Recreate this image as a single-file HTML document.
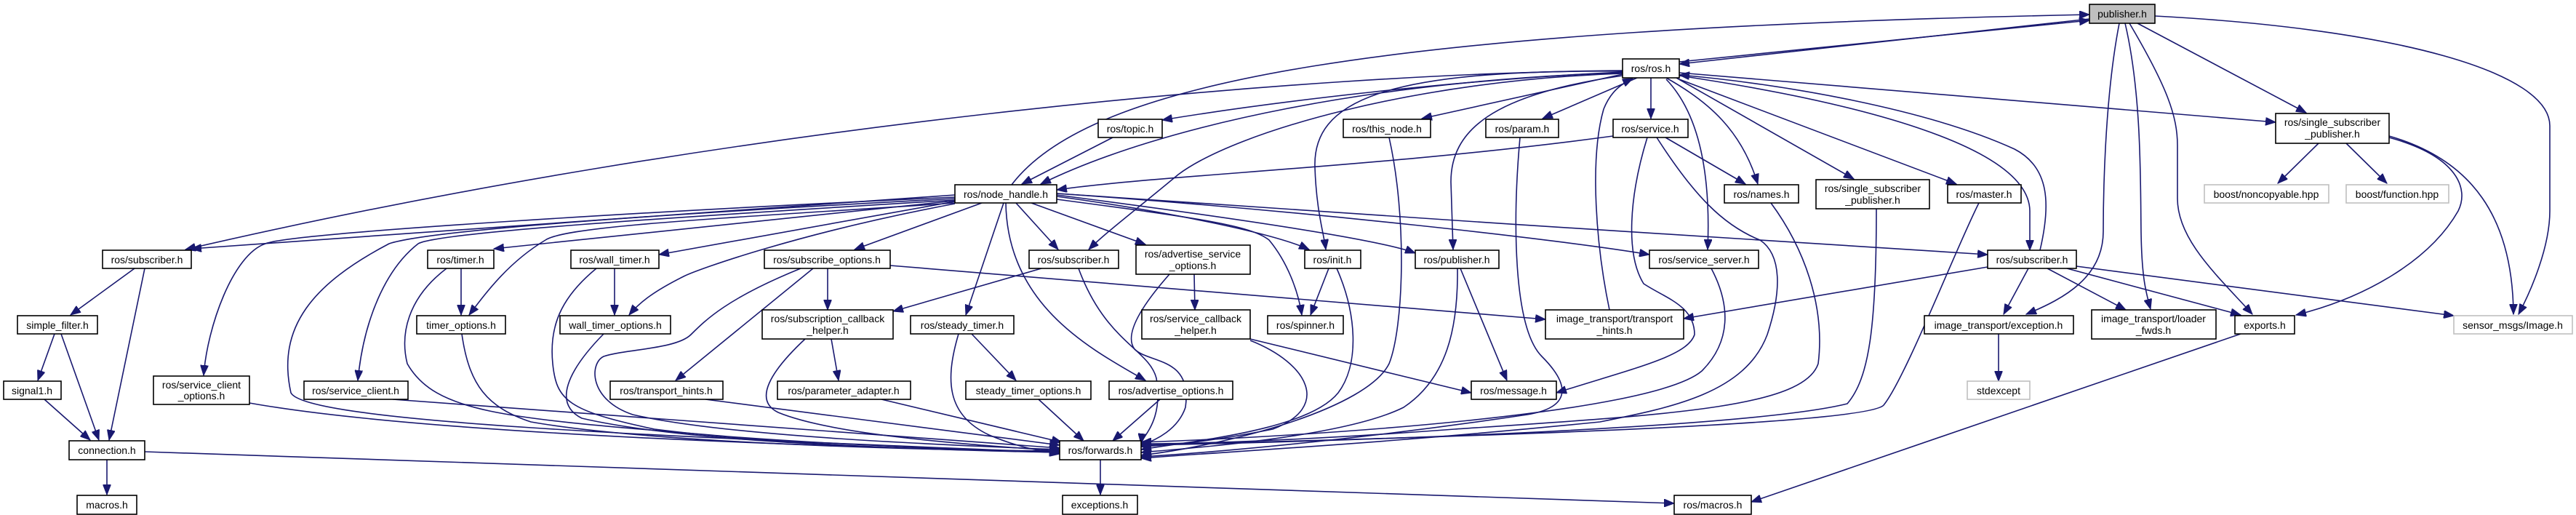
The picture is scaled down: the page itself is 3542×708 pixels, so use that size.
<!DOCTYPE html>
<html><head><meta charset="utf-8">
<style>
html,body{margin:0;padding:0;background:#fff;}
svg{display:block;}
text{font-family:"Liberation Sans",sans-serif;font-size:14px;fill:#000;}
.e{fill:none;stroke:#191970;stroke-width:1.6;marker-end:url(#a);}
.n{fill:#fff;stroke:#000;stroke-width:1.6;}
.g{fill:#fff;stroke:#bfbfbf;stroke-width:1.6;}
</style></head><body>
<svg width="3542" height="708" viewBox="0 0 3542 708" xmlns="http://www.w3.org/2000/svg">
<defs><marker id="a" markerUnits="userSpaceOnUse" markerWidth="15" markerHeight="11" refX="14" refY="5.5" orient="auto"><path d="M0,0 L14,5.5 L0,11 z" fill="#191970" stroke="#191970"/></marker></defs>
<g>
<path class="e" d="M1391,254 C1500,110 1900,40 2873,20"/>
<path class="e" d="M2873,26 L2309,88"/>
<path class="e" d="M2309,85 L2873,28"/>
<path class="e" d="M2914,32 C2893,140 2892,280 2892,318 C2892,380 2840,410 2786,432"/>
<path class="e" d="M2922,32 C2945,130 2943,250 2944,320 C2945,380 2950,400 2957,425"/>
<path class="e" d="M2928,32 C2980,120 2994,160 2994,200 L2994,273 C2994,330 3050,380 3097,432"/>
<path class="e" d="M2939,32 L3171,155"/>
<path class="e" d="M2963,22 C3300,40 3506,100 3506,173 L3506,290 C3506,340 3480,400 3463,432"/>
<path class="e" d="M3188,197 L3132,252"/>
<path class="e" d="M3226,197 L3282,252"/>
<path class="e" d="M3285,189 C3380,215 3395,260 3380,290 C3340,360 3250,410 3157,433"/>
<path class="e" d="M3285,187 C3400,220 3455,300 3456,432"/>
<path class="e" d="M2309,100 L3129,168"/>
<path class="e" d="M2789,369 L2755,432"/>
<path class="e" d="M2815,369 L2923,426"/>
<path class="e" d="M2842,369 L3081,433"/>
<path class="e" d="M2855,366 L3374,434"/>
<path class="e" d="M2309,104 C2550,140 2790,200 2791,290 L2791,344"/>
<path class="e" d="M2805,344 C2820,280 2818,230 2770,205 C2650,150 2450,115 2309,103"/>
<path class="e" d="M2733,367 L2315,438"/>
<path class="e" d="M1453,266 C1800,290 2400,330 2733,350"/>
<path class="e" d="M2721,279 C2690,340 2620,520 2590,557 C2560,590 1700,608 1569,612"/>
<path class="e" d="M3081,459 L2408,690"/>
<path class="e" d="M2748,459 L2748,524"/>
<path class="e" d="M2231,102 L1955,163"/>
<path class="e" d="M2251,107 L2121,163"/>
<path class="e" d="M2270,107 L2270,163"/>
<path class="e" d="M2291,107 C2350,140 2395,180 2417,253"/>
<path class="e" d="M2305,107 L2549,246"/>
<path class="e" d="M2309,109 L2690,253"/>
<path class="e" d="M2291,109 C2340,160 2352,250 2348,343"/>
<path class="e" d="M2231,104 C2050,130 1995,180 1995,250 L1998,343"/>
<path class="e" d="M2231,98 C1900,95 1805,140 1808,230 C1810,290 1820,320 1823,343"/>
<path class="e" d="M2231,99 C2000,110 1750,140 1598,165"/>
<path class="e" d="M2231,100 C1900,110 1600,170 1431,253"/>
<path class="e" d="M2231,101 C1950,110 1700,180 1620,240 C1560,290 1520,320 1497,343"/>
<path class="e" d="M2231,97 C1800,100 1000,170 255,343"/>
<path class="e" d="M1313,268 L263,342"/>
<path class="e" d="M2213,426 C2195,340 2185,220 2205,150 C2215,125 2230,115 2245,108"/>
<path class="e" d="M1530,189 L1405,253"/>
<path class="e" d="M2218,187 C1900,230 1600,240 1453,261"/>
<path class="e" d="M1313,271 C900,290 400,320 365,335 C320,350 285,450 280,516"/>
<path class="e" d="M1313,273 C800,300 580,320 535,335 C430,390 380,450 400,540 C420,580 900,600 1457,622"/>
<path class="e" d="M1313,275 C900,300 600,320 575,335 C530,370 500,440 492,523"/>
<path class="e" d="M1313,276 L679,342"/>
<path class="e" d="M1313,279 C1000,300 780,310 750,330 C700,360 670,400 645,433"/>
<path class="e" d="M1313,277 L906,350"/>
<path class="e" d="M1313,280 C1100,320 960,370 940,380 C900,400 880,415 865,433"/>
<path class="e" d="M1350,279 L1175,343"/>
<path class="e" d="M1380,279 L1328,433"/>
<path class="e" d="M1397,279 L1455,343"/>
<path class="e" d="M1418,279 L1575,336"/>
<path class="e" d="M1383,279 C1385,420 1500,480 1575,523"/>
<path class="e" d="M1453,274 C1650,300 1720,310 1745,330 C1770,360 1785,400 1790,433"/>
<path class="e" d="M1453,270 C1600,290 1750,320 1800,343"/>
<path class="e" d="M1453,268 C1700,300 1900,330 1946,348"/>
<path class="e" d="M1453,266 C1800,290 2150,330 2268,350"/>
<path class="e" d="M1138,369 L1138,426"/>
<path class="e" d="M1118,369 L929,523"/>
<path class="e" d="M1101,369 C1000,410 970,440 950,460 C930,480 860,480 830,490 C810,500 810,550 870,570 C1000,600 1300,612 1457,618"/>
<path class="e" d="M1224,365 L2125,439"/>
<path class="e" d="M1432,369 L1228,428"/>
<path class="e" d="M1483,369 C1520,470 1580,480 1590,520 C1600,580 1570,600 1569,610"/>
<path class="e" d="M1642,377 L1643,426"/>
<path class="e" d="M1608,377 C1570,420 1545,460 1560,480 C1580,500 1640,490 1630,560 C1620,590 1590,605 1569,612"/>
<path class="e" d="M1143,466 L1153,523"/>
<path class="e" d="M1107,466 C1060,510 1035,550 1070,567 C1150,600 1350,612 1457,620"/>
<path class="e" d="M1336,459 L1397,523"/>
<path class="e" d="M1318,459 C1300,520 1300,570 1360,598 C1400,615 1430,620 1457,624"/>
<path class="e" d="M1719,466 L2023,540"/>
<path class="e" d="M1719,468 C1800,500 1830,560 1750,590 C1650,610 1600,612 1569,614"/>
<path class="e" d="M1595,549 L1530,606"/>
<path class="e" d="M1428,549 L1490,606"/>
<path class="e" d="M1212,549 L1460,608"/>
<path class="e" d="M970,549 L1457,612"/>
<path class="e" d="M540,549 L1457,616"/>
<path class="e" d="M343,554 C600,600 1200,615 1457,622"/>
<path class="e" d="M635,459 C645,530 670,560 730,580 C900,610 1300,620 1457,620"/>
<path class="e" d="M830,459 C780,510 760,555 800,575 C950,610 1300,620 1457,620"/>
<path class="e" d="M634,369 L634,433"/>
<path class="e" d="M614,369 C560,410 550,460 560,500 C600,570 700,575 1000,600 C1200,615 1400,620 1457,622"/>
<path class="e" d="M845,369 L845,433"/>
<path class="e" d="M820,369 C770,410 755,450 760,500 C765,550 780,565 900,590 C1100,615 1350,620 1457,622"/>
<path class="e" d="M1513,632 L1513,680"/>
<path class="e" d="M199,621 L2302,692"/>
<path class="e" d="M147,632 L147,680"/>
<path class="e" d="M185,369 L97,433"/>
<path class="e" d="M199,369 L150,605"/>
<path class="e" d="M75,459 L52,523"/>
<path class="e" d="M84,459 L136,605"/>
<path class="e" d="M61,549 L124,605"/>
<path class="e" d="M1827,369 L1802,433"/>
<path class="e" d="M1838,369 C1865,430 1870,500 1840,540 C1800,590 1650,605 1569,618"/>
<path class="e" d="M2008,369 L2072,523"/>
<path class="e" d="M2004,369 C2005,450 1990,520 1930,560 C1850,600 1650,615 1569,622"/>
<path class="e" d="M1910,189 C1935,300 1930,450 1910,500 C1880,560 1700,610 1569,626"/>
<path class="e" d="M2090,189 C2080,300 2080,450 2120,490 C2160,530 2160,560 2100,570 C1900,600 1700,620 1569,628"/>
<path class="e" d="M2290,189 L2400,253"/>
<path class="e" d="M2265,189 C2240,270 2235,350 2260,390 C2290,410 2330,420 2330,460 C2320,490 2250,505 2140,540"/>
<path class="e" d="M2278,189 C2330,270 2370,310 2420,330 C2450,350 2450,400 2430,460 C2400,540 2300,560 2200,580 C1900,610 1700,620 1569,630"/>
<path class="e" d="M2435,279 C2480,340 2510,420 2500,500 C2480,560 2300,570 2000,590 C1800,605 1650,610 1569,610"/>
<path class="e" d="M2580,287 C2580,450 2570,520 2540,555 C2400,590 1800,608 1569,612"/>
<path class="e" d="M2353,369 C2380,420 2380,470 2340,510 C2270,570 1800,600 1569,608"/>
</g>
<g>
<rect x="2873" y="6" width="90" height="26" fill="#bfbfbf" stroke="#000" stroke-width="1.6"/><text x="2918" y="24" text-anchor="middle">publisher.h</text>
<rect class="n" x="2231" y="81" width="78" height="26"/><text x="2270" y="99" text-anchor="middle">ros/ros.h</text>
<rect class="n" x="1510" y="164" width="88" height="25"/><text x="1554" y="182" text-anchor="middle">ros/topic.h</text>
<rect class="n" x="1847" y="164" width="120" height="25"/><text x="1907" y="182" text-anchor="middle">ros/this_node.h</text>
<rect class="n" x="2043" y="164" width="100" height="25"/><text x="2093" y="182" text-anchor="middle">ros/param.h</text>
<rect class="n" x="2218" y="164" width="103" height="25"/><text x="2269" y="182" text-anchor="middle">ros/service.h</text>
<rect class="n" x="3129" y="156" width="156" height="41"/><text x="3207" y="173" text-anchor="middle">ros/single_subscriber</text><text x="3207" y="189" text-anchor="middle">_publisher.h</text>
<rect class="n" x="1313" y="254" width="140" height="25"/><text x="1383" y="272" text-anchor="middle">ros/node_handle.h</text>
<rect class="n" x="2371" y="254" width="102" height="25"/><text x="2422" y="272" text-anchor="middle">ros/names.h</text>
<rect class="n" x="2497" y="247" width="156" height="40"/><text x="2575" y="264" text-anchor="middle">ros/single_subscriber</text><text x="2575" y="280" text-anchor="middle">_publisher.h</text>
<rect class="n" x="2678" y="254" width="101" height="25"/><text x="2728" y="272" text-anchor="middle">ros/master.h</text>
<rect class="g" x="3031" y="254" width="171" height="25"/><text x="3116" y="272" text-anchor="middle">boost/noncopyable.hpp</text>
<rect class="g" x="3226" y="254" width="141" height="25"/><text x="3296" y="272" text-anchor="middle">boost/function.hpp</text>
<rect class="n" x="141" y="344" width="122" height="25"/><text x="202" y="362" text-anchor="middle">ros/subscriber.h</text>
<rect class="n" x="588" y="344" width="91" height="25"/><text x="633" y="362" text-anchor="middle">ros/timer.h</text>
<rect class="n" x="785" y="344" width="121" height="25"/><text x="845" y="362" text-anchor="middle">ros/wall_timer.h</text>
<rect class="n" x="1051" y="344" width="173" height="25"/><text x="1137" y="362" text-anchor="middle">ros/subscribe_options.h</text>
<rect class="n" x="1415" y="344" width="123" height="25"/><text x="1476" y="362" text-anchor="middle">ros/subscriber.h</text>
<rect class="n" x="1562" y="337" width="157" height="40"/><text x="1640" y="354" text-anchor="middle">ros/advertise_service</text><text x="1640" y="370" text-anchor="middle">_options.h</text>
<rect class="n" x="1794" y="344" width="77" height="25"/><text x="1832" y="362" text-anchor="middle">ros/init.h</text>
<rect class="n" x="1946" y="344" width="115" height="25"/><text x="2003" y="362" text-anchor="middle">ros/publisher.h</text>
<rect class="n" x="2268" y="344" width="150" height="25"/><text x="2343" y="362" text-anchor="middle">ros/service_server.h</text>
<rect class="n" x="2733" y="344" width="122" height="25"/><text x="2794" y="362" text-anchor="middle">ros/subscriber.h</text>
<rect class="n" x="24" y="434" width="110" height="25"/><text x="79" y="452" text-anchor="middle">simple_filter.h</text>
<rect class="n" x="573" y="434" width="122" height="25"/><text x="634" y="452" text-anchor="middle">timer_options.h</text>
<rect class="n" x="770" y="434" width="152" height="25"/><text x="846" y="452" text-anchor="middle">wall_timer_options.h</text>
<rect class="n" x="1048" y="426" width="180" height="40"/><text x="1138" y="443" text-anchor="middle">ros/subscription_callback</text><text x="1138" y="459" text-anchor="middle">_helper.h</text>
<rect class="n" x="1252" y="434" width="142" height="25"/><text x="1323" y="452" text-anchor="middle">ros/steady_timer.h</text>
<rect class="n" x="1570" y="426" width="149" height="40"/><text x="1644" y="443" text-anchor="middle">ros/service_callback</text><text x="1644" y="459" text-anchor="middle">_helper.h</text>
<rect class="n" x="1743" y="434" width="104" height="25"/><text x="1795" y="452" text-anchor="middle">ros/spinner.h</text>
<rect class="n" x="2125" y="426" width="190" height="40"/><text x="2220" y="443" text-anchor="middle">image_transport/transport</text><text x="2220" y="459" text-anchor="middle">_hints.h</text>
<rect class="n" x="2646" y="434" width="205" height="25"/><text x="2748" y="452" text-anchor="middle">image_transport/exception.h</text>
<rect class="n" x="2876" y="426" width="171" height="40"/><text x="2961" y="443" text-anchor="middle">image_transport/loader</text><text x="2961" y="459" text-anchor="middle">_fwds.h</text>
<rect class="n" x="3073" y="434" width="82" height="25"/><text x="3114" y="452" text-anchor="middle">exports.h</text>
<rect class="g" x="3374" y="434" width="163" height="25"/><text x="3455" y="452" text-anchor="middle">sensor_msgs/Image.h</text>
<rect class="n" x="5" y="524" width="79" height="25"/><text x="44" y="542" text-anchor="middle">signal1.h</text>
<rect class="n" x="211" y="517" width="132" height="39"/><text x="277" y="534" text-anchor="middle">ros/service_client</text><text x="277" y="549" text-anchor="middle">_options.h</text>
<rect class="n" x="418" y="524" width="143" height="25"/><text x="489" y="542" text-anchor="middle">ros/service_client.h</text>
<rect class="n" x="839" y="524" width="155" height="25"/><text x="916" y="542" text-anchor="middle">ros/transport_hints.h</text>
<rect class="n" x="1069" y="524" width="183" height="25"/><text x="1160" y="542" text-anchor="middle">ros/parameter_adapter.h</text>
<rect class="n" x="1328" y="524" width="172" height="25"/><text x="1414" y="542" text-anchor="middle">steady_timer_options.h</text>
<rect class="n" x="1525" y="524" width="170" height="25"/><text x="1610" y="542" text-anchor="middle">ros/advertise_options.h</text>
<rect class="n" x="2023" y="524" width="117" height="25"/><text x="2081" y="542" text-anchor="middle">ros/message.h</text>
<rect class="g" x="2705" y="524" width="86" height="25"/><text x="2748" y="542" text-anchor="middle">stdexcept</text>
<rect class="n" x="95" y="606" width="104" height="26"/><text x="147" y="624" text-anchor="middle">connection.h</text>
<rect class="n" x="1457" y="606" width="112" height="26"/><text x="1513" y="624" text-anchor="middle">ros/forwards.h</text>
<rect class="n" x="106" y="681" width="82" height="26"/><text x="147" y="699" text-anchor="middle">macros.h</text>
<rect class="n" x="1461" y="681" width="103" height="26"/><text x="1512" y="699" text-anchor="middle">exceptions.h</text>
<rect class="n" x="2302" y="681" width="106" height="26"/><text x="2355" y="699" text-anchor="middle">ros/macros.h</text>
</g>
</svg>
</body></html>
